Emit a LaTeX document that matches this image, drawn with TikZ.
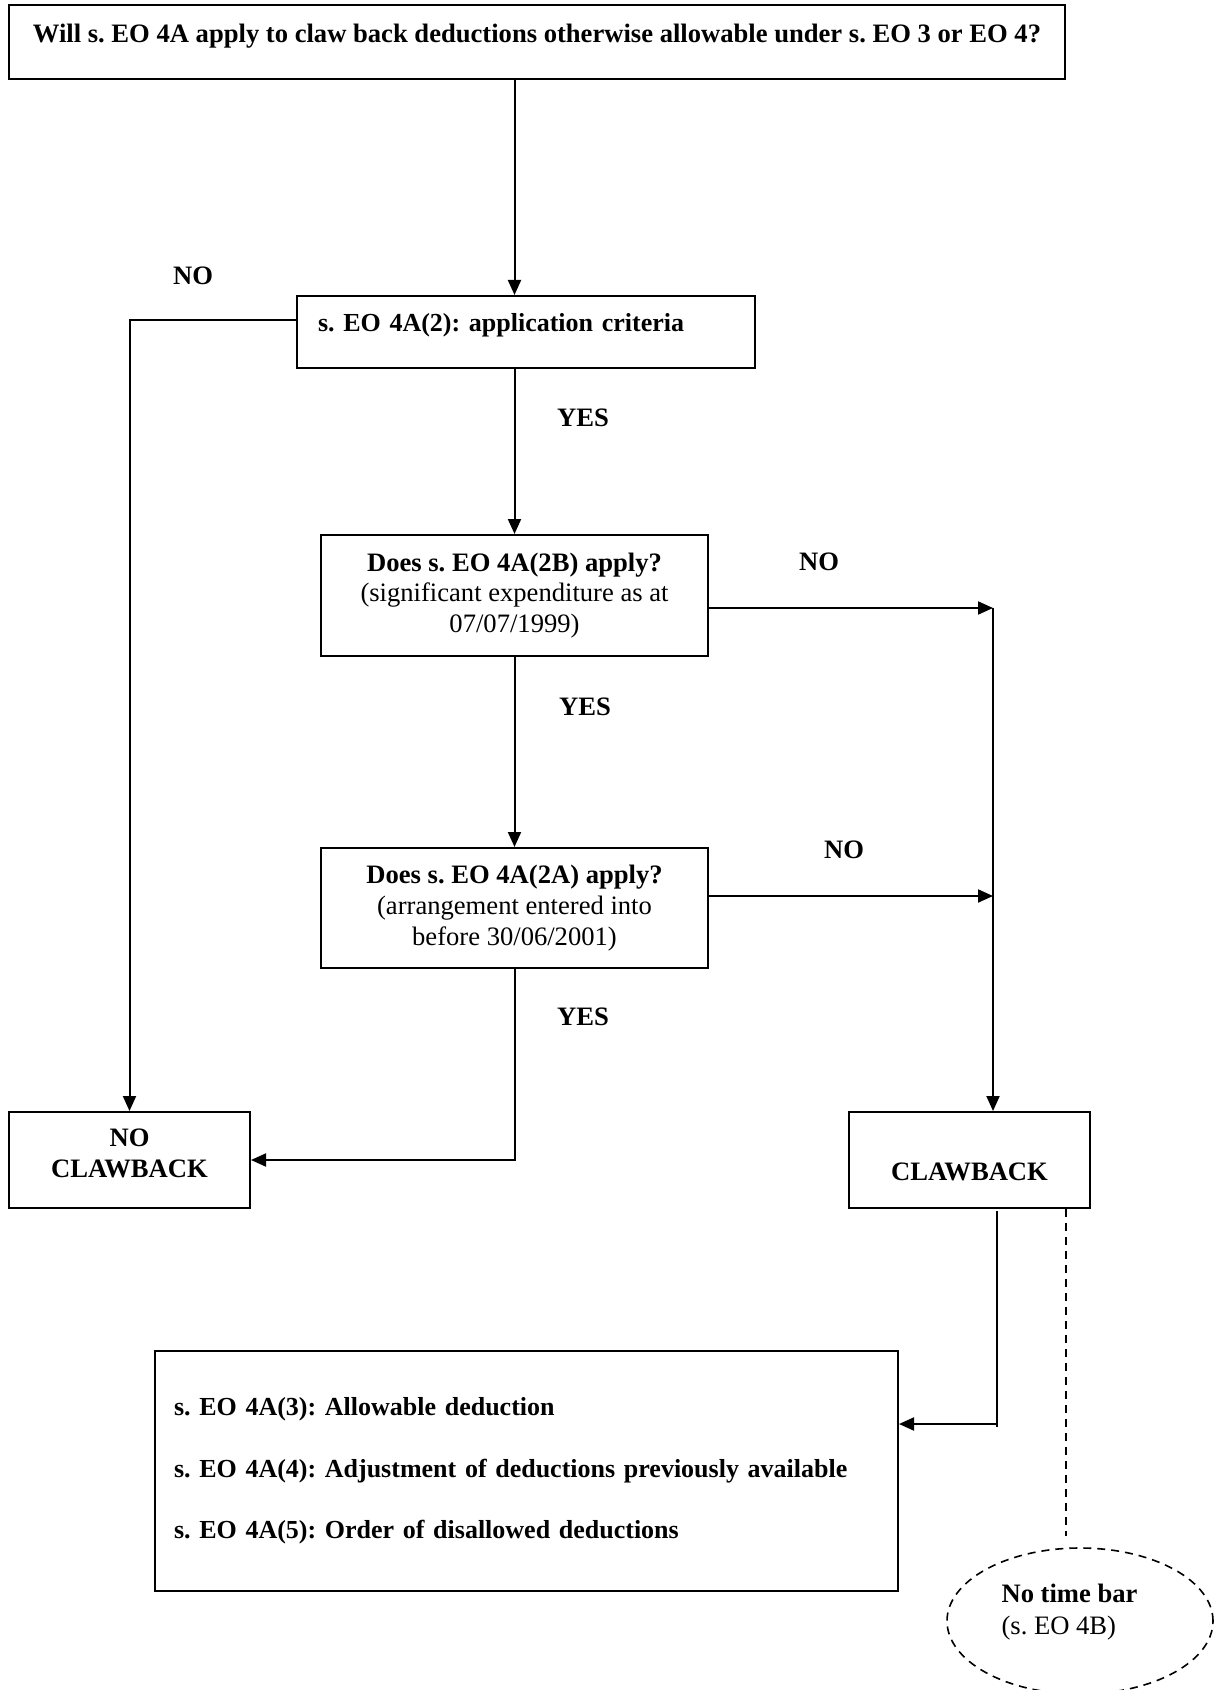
\documentclass[tikz,border=0pt]{standalone}
\usepackage{fontspec}
\setmainfont{Liberation Serif}
\usetikzlibrary{arrows.meta,shapes.geometric}
\frenchspacing
\begin{document}
\begin{tikzpicture}[x=0.5pt,y=-0.5pt,
  fn/.style={font=\fontsize{13.3}{15.3}\selectfont\frenchspacing},
  fb/.style={font=\fontsize{13.3}{15.3}\selectfont\bfseries\frenchspacing},
  fbs/.style={font=\fontsize{13}{15.3}\selectfont\bfseries\frenchspacing},
  box/.style={draw, line width=1pt, rectangle, inner sep=0pt},
  lbl/.style={fb, inner sep=0pt},
  conn/.style={line width=1pt},
  arr/.style={line width=1pt, -{Triangle[length=7.5pt,width=6.5pt]}},
  dsh/.style={line width=0.8pt, dash pattern=on 4pt off 3pt}
]
\useasboundingbox (0,0) rectangle (1225,1690);

% boxes
\node[box, fb, minimum width=528pt, minimum height=37pt, text height=9pt, text depth=8pt] (top) at (537,42)
  {Will s. EO 4A apply to claw back deductions otherwise allowable under s. EO 3 or EO 4?};
\node[box, fbs, text width=208pt, inner xsep=10.5pt, align=left, minimum height=36pt, text height=9pt, text depth=9pt] (box2) at (526,332)
  {s. EO 4A(2): application criteria};
\node[box, fn, align=center, minimum width=193.5pt, minimum height=60.5pt] (box3) at (514.5,595.5)
  {{\bfseries Does s. EO 4A(2B) apply?}\\(significant expenditure as at\\07/07/1999)};
\node[box, fn, align=center, minimum width=193.5pt, minimum height=60pt] (box4) at (514.5,908)
  {{\bfseries Does s. EO 4A(2A) apply?}\\(arrangement entered into\\before 30/06/2001)};
\node[box, fb, align=center, minimum width=120.5pt, minimum height=48pt, text depth=7pt] (noclaw) at (129.5,1160)
  {NO\\CLAWBACK};
\node[box, fb, minimum width=120.5pt, minimum height=48pt, text height=20pt, text depth=0pt] (claw) at (969.5,1160)
  {CLAWBACK};
\node[box, fbs, text width=352.5pt, inner xsep=9.5pt, align=left, minimum height=120pt] (box5) at (526.5,1471)
  {s. EO 4A(3): Allowable deduction\\[15.45pt]
   s. EO 4A(4): Adjustment of deductions previously available\\[15.45pt]
   s. EO 4A(5): Order of disallowed deductions};
\node[draw, ellipse, dsh, minimum width=133pt, minimum height=73pt, inner sep=0pt] (tb) at (1080,1621) {};
\node[fn, align=left, inner sep=0pt] (tbt) at (1069.5,1612)
  {{\bfseries No time bar}\\[0.7pt](s. EO 4B)};

% labels
\node[lbl] (no1) at (193,276) {NO};
\node[lbl] (yes1) at (583,418) {YES};
\node[lbl] (no2) at (819,562) {NO};
\node[lbl] (yes2) at (585,707) {YES};
\node[lbl] (no3) at (844,850) {NO};
\node[lbl] (yes3) at (583,1017) {YES};

% junction coordinates
\coordinate (j1) at (993,608);
\coordinate (j2) at (993,896);
\coordinate (c1) at (997,1211);
\coordinate (c2) at (997,1427);
\coordinate (c3) at (997,1424);
\coordinate (d1) at (1066,1209);
\coordinate (d2) at (1066,1536);

% connectors
\draw[arr] (top.south -| box3.north) -- (box2.north -| box3.north);
\draw[arr] (box2.south -| box3.north) -- (box3.north);
\draw[arr] (box3.south) -- (box4.north);
\draw[arr] ([yshift=6pt]box2.west) -| (noclaw.north);
\draw[arr] (box3.east |- j1) -- (j1);
\draw[arr] (box4.east |- j2) -- (j2);
\draw[arr] (j1) -- (j1 |- claw.north);
\draw[arr] (box4.south) |- (noclaw.east);
\draw[conn] (c1) -- (c2);
\draw[arr] (c3) -- (c3 -| box5.east);
\draw[dsh] (d1) -- (d2);
\end{tikzpicture}
\end{document}
